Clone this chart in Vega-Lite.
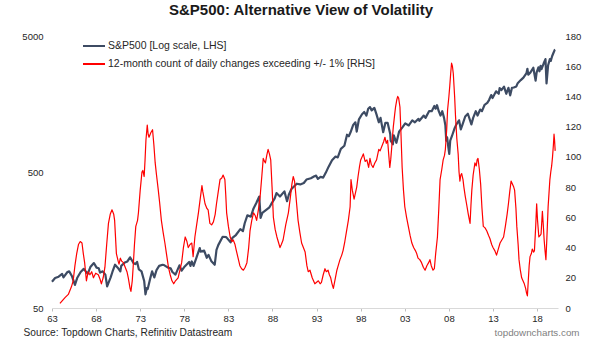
{
  "$schema": "https://vega.github.io/schema/vega-lite/v6.json",
  "width": 506,
  "height": 272,
  "autosize": {"type": "none"},
  "padding": {"left": 52, "top": 36, "right": 47, "bottom": 33},
  "background": "white",
  "title": {
    "text": "S&P500: Alternative View of Volatility",
    "font": "Liberation Sans",
    "fontSize": 15,
    "fontWeight": "bold",
    "color": "#1a1a1a",
    "anchor": "middle",
    "frame": "group",
    "offset": 13,
    "dx": -4
  },
  "config": {
    "view": {"stroke": null},
    "font": "Liberation Sans",
    "axis": {"grid": false, "labelFont": "Liberation Sans", "labelColor": "#262626", "labelFontSize": 9.5}
  },
  "datasets": {
    "sp": [
      {"t": 1963.0, "v": 78}, {"t": 1963.35, "v": 83}, {"t": 1963.75, "v": 85}, {"t": 1964.15, "v": 89}, {"t": 1964.3, "v": 84},
      {"t": 1964.75, "v": 92}, {"t": 1964.95, "v": 93}, {"t": 1965.25, "v": 86}, {"t": 1965.6, "v": 74}, {"t": 1965.85, "v": 83},
      {"t": 1966.25, "v": 92}, {"t": 1966.6, "v": 97}, {"t": 1967.05, "v": 89}, {"t": 1967.35, "v": 100}, {"t": 1967.75, "v": 107},
      {"t": 1968.05, "v": 99}, {"t": 1968.3, "v": 98}, {"t": 1968.45, "v": 91}, {"t": 1968.75, "v": 93}, {"t": 1969.05, "v": 88},
      {"t": 1969.25, "v": 72}, {"t": 1969.35, "v": 75}, {"t": 1969.65, "v": 84}, {"t": 1969.85, "v": 92}, {"t": 1970.15, "v": 104},
      {"t": 1970.45, "v": 99}, {"t": 1970.75, "v": 93}, {"t": 1970.85, "v": 102}, {"t": 1971.25, "v": 108}, {"t": 1971.55, "v": 110},
      {"t": 1971.85, "v": 118}, {"t": 1972.25, "v": 107}, {"t": 1972.45, "v": 105}, {"t": 1972.65, "v": 109}, {"t": 1972.85, "v": 96},
      {"t": 1973.15, "v": 93}, {"t": 1973.45, "v": 79}, {"t": 1973.6, "v": 63}, {"t": 1973.75, "v": 70}, {"t": 1973.85, "v": 69},
      {"t": 1974.15, "v": 83}, {"t": 1974.35, "v": 93}, {"t": 1974.6, "v": 84}, {"t": 1974.85, "v": 95}, {"t": 1975.15, "v": 102},
      {"t": 1975.55, "v": 104}, {"t": 1975.75, "v": 103}, {"t": 1976.15, "v": 99}, {"t": 1976.45, "v": 98}, {"t": 1976.65, "v": 92},
      {"t": 1977.0, "v": 88}, {"t": 1977.45, "v": 103}, {"t": 1977.7, "v": 94}, {"t": 1978.05, "v": 101}, {"t": 1978.55, "v": 109},
      {"t": 1978.7, "v": 102}, {"t": 1978.85, "v": 110}, {"t": 1979.05, "v": 102}, {"t": 1979.35, "v": 116}, {"t": 1979.75, "v": 138},
      {"t": 1979.85, "v": 130}, {"t": 1980.25, "v": 132}, {"t": 1980.55, "v": 117}, {"t": 1980.75, "v": 123}, {"t": 1981.05, "v": 111},
      {"t": 1981.45, "v": 104}, {"t": 1981.65, "v": 134}, {"t": 1981.85, "v": 145}, {"t": 1982.35, "v": 167}, {"t": 1982.75, "v": 166},
      {"t": 1983.25, "v": 152}, {"t": 1983.45, "v": 164}, {"t": 1983.85, "v": 172}, {"t": 1984.35, "v": 190}, {"t": 1984.65, "v": 184},
      {"t": 1984.85, "v": 210}, {"t": 1985.15, "v": 240}, {"t": 1985.55, "v": 235}, {"t": 1985.85, "v": 270}, {"t": 1986.15, "v": 295},
      {"t": 1986.5, "v": 330}, {"t": 1986.65, "v": 230}, {"t": 1986.85, "v": 250}, {"t": 1987.25, "v": 262}, {"t": 1987.65, "v": 275},
      {"t": 1987.85, "v": 290}, {"t": 1988.25, "v": 320}, {"t": 1988.45, "v": 350}, {"t": 1988.85, "v": 330}, {"t": 1989.35, "v": 360},
      {"t": 1989.65, "v": 305}, {"t": 1989.85, "v": 340}, {"t": 1990.15, "v": 375}, {"t": 1990.75, "v": 410}, {"t": 1991.15, "v": 405},
      {"t": 1991.55, "v": 415}, {"t": 1991.85, "v": 440}, {"t": 1992.35, "v": 450}, {"t": 1992.75, "v": 465}, {"t": 1992.95, "v": 470},
      {"t": 1993.15, "v": 445}, {"t": 1993.45, "v": 460}, {"t": 1993.75, "v": 455}, {"t": 1994.05, "v": 495}, {"t": 1994.35, "v": 545},
      {"t": 1994.75, "v": 610}, {"t": 1995.15, "v": 650}, {"t": 1995.4, "v": 640}, {"t": 1995.75, "v": 740}, {"t": 1996.15, "v": 780},
      {"t": 1996.45, "v": 940}, {"t": 1996.65, "v": 915}, {"t": 1996.85, "v": 980}, {"t": 1997.15, "v": 1110}, {"t": 1997.4, "v": 1160},
      {"t": 1997.55, "v": 990}, {"t": 1997.8, "v": 1220}, {"t": 1998.15, "v": 1330}, {"t": 1998.4, "v": 1380}, {"t": 1998.65, "v": 1300},
      {"t": 1998.85, "v": 1460}, {"t": 1999.05, "v": 1500}, {"t": 1999.25, "v": 1420}, {"t": 1999.55, "v": 1480}, {"t": 1999.8, "v": 1320},
      {"t": 2000.05, "v": 1160}, {"t": 2000.25, "v": 1250}, {"t": 2000.55, "v": 980}, {"t": 2000.8, "v": 1150}, {"t": 2001.05, "v": 1150},
      {"t": 2001.35, "v": 950}, {"t": 2001.4, "v": 850}, {"t": 2001.65, "v": 800}, {"t": 2001.75, "v": 930}, {"t": 2002.05, "v": 820},
      {"t": 2002.35, "v": 990}, {"t": 2002.75, "v": 1070}, {"t": 2003.05, "v": 1140}, {"t": 2003.45, "v": 1100}, {"t": 2003.85, "v": 1200},
      {"t": 2004.15, "v": 1160}, {"t": 2004.55, "v": 1230}, {"t": 2004.65, "v": 1190}, {"t": 2005.15, "v": 1300}, {"t": 2005.35, "v": 1250},
      {"t": 2005.75, "v": 1400}, {"t": 2006.05, "v": 1400}, {"t": 2006.35, "v": 1530}, {"t": 2006.5, "v": 1460}, {"t": 2006.65, "v": 1550},
      {"t": 2006.85, "v": 1400}, {"t": 2007.05, "v": 1300}, {"t": 2007.25, "v": 1400}, {"t": 2007.45, "v": 1250}, {"t": 2007.6, "v": 1100},
      {"t": 2007.7, "v": 850}, {"t": 2007.8, "v": 900}, {"t": 2007.95, "v": 750}, {"t": 2008.04, "v": 680}, {"t": 2008.15, "v": 850},
      {"t": 2008.35, "v": 920}, {"t": 2008.65, "v": 1050}, {"t": 2008.85, "v": 1120}, {"t": 2009.15, "v": 1200}, {"t": 2009.35, "v": 1030},
      {"t": 2009.55, "v": 1120}, {"t": 2009.85, "v": 1280}, {"t": 2010.15, "v": 1340}, {"t": 2010.55, "v": 1120}, {"t": 2010.75, "v": 1250},
      {"t": 2011.05, "v": 1400}, {"t": 2011.25, "v": 1300}, {"t": 2011.55, "v": 1440}, {"t": 2011.75, "v": 1400}, {"t": 2012.05, "v": 1560},
      {"t": 2012.35, "v": 1610}, {"t": 2012.55, "v": 1690}, {"t": 2012.8, "v": 1840}, {"t": 2012.95, "v": 1750}, {"t": 2013.35, "v": 1960},
      {"t": 2013.65, "v": 1880}, {"t": 2013.75, "v": 2070}, {"t": 2013.95, "v": 2000}, {"t": 2014.25, "v": 2120}, {"t": 2014.5, "v": 1880},
      {"t": 2014.75, "v": 2080}, {"t": 2014.95, "v": 1830}, {"t": 2015.15, "v": 2080}, {"t": 2015.35, "v": 2090}, {"t": 2015.65, "v": 2130},
      {"t": 2015.8, "v": 2250}, {"t": 2016.15, "v": 2370}, {"t": 2016.45, "v": 2470}, {"t": 2016.8, "v": 2670}, {"t": 2016.9, "v": 2870},
      {"t": 2017.0, "v": 2600}, {"t": 2017.25, "v": 2700}, {"t": 2017.57, "v": 2920}, {"t": 2017.83, "v": 2350}, {"t": 2017.95, "v": 2700},
      {"t": 2018.15, "v": 2940}, {"t": 2018.27, "v": 2750}, {"t": 2018.4, "v": 3020}, {"t": 2018.5, "v": 2850}, {"t": 2018.75, "v": 3150},
      {"t": 2018.95, "v": 3380}, {"t": 2019.07, "v": 2240}, {"t": 2019.25, "v": 3050}, {"t": 2019.45, "v": 3380}, {"t": 2019.55, "v": 3280},
      {"t": 2019.7, "v": 3550}, {"t": 2019.85, "v": 3750}, {"t": 2020.0, "v": 3950}, {"t": 2020.05, "v": 3970}
    ],
    "vol": [
      {"t": 1963.9, "v": 3}, {"t": 1964.2, "v": 5}, {"t": 1964.5, "v": 7}, {"t": 1964.85, "v": 9}, {"t": 1965.2, "v": 14},
      {"t": 1965.4, "v": 18}, {"t": 1965.6, "v": 28}, {"t": 1965.8, "v": 36}, {"t": 1966.0, "v": 42}, {"t": 1966.2, "v": 44},
      {"t": 1966.4, "v": 43}, {"t": 1966.55, "v": 36}, {"t": 1966.7, "v": 30}, {"t": 1966.9, "v": 18}, {"t": 1967.1, "v": 24},
      {"t": 1967.3, "v": 22}, {"t": 1967.5, "v": 24}, {"t": 1967.7, "v": 20}, {"t": 1967.95, "v": 23}, {"t": 1968.25, "v": 22},
      {"t": 1968.45, "v": 19}, {"t": 1968.6, "v": 16}, {"t": 1968.8, "v": 20}, {"t": 1969.0, "v": 27}, {"t": 1969.2, "v": 42},
      {"t": 1969.4, "v": 56}, {"t": 1969.6, "v": 62}, {"t": 1969.8, "v": 65}, {"t": 1970.0, "v": 62}, {"t": 1970.1, "v": 58},
      {"t": 1970.3, "v": 36}, {"t": 1970.5, "v": 31}, {"t": 1970.6, "v": 29}, {"t": 1970.75, "v": 33}, {"t": 1970.9, "v": 31},
      {"t": 1971.1, "v": 30}, {"t": 1971.3, "v": 27}, {"t": 1971.5, "v": 24}, {"t": 1971.65, "v": 20}, {"t": 1971.85, "v": 13},
      {"t": 1971.95, "v": 11}, {"t": 1972.1, "v": 18}, {"t": 1972.2, "v": 27}, {"t": 1972.35, "v": 42}, {"t": 1972.5, "v": 54},
      {"t": 1972.7, "v": 58}, {"t": 1972.8, "v": 63}, {"t": 1973.0, "v": 78}, {"t": 1973.2, "v": 90}, {"t": 1973.3, "v": 91},
      {"t": 1973.45, "v": 87}, {"t": 1973.55, "v": 98}, {"t": 1973.65, "v": 111}, {"t": 1973.8, "v": 121}, {"t": 1973.9, "v": 115},
      {"t": 1974.0, "v": 113}, {"t": 1974.2, "v": 116}, {"t": 1974.4, "v": 118}, {"t": 1974.55, "v": 108}, {"t": 1974.7, "v": 96},
      {"t": 1974.85, "v": 88}, {"t": 1975.05, "v": 78}, {"t": 1975.2, "v": 70}, {"t": 1975.4, "v": 58}, {"t": 1975.6, "v": 50},
      {"t": 1975.8, "v": 43}, {"t": 1976.0, "v": 35}, {"t": 1976.2, "v": 27}, {"t": 1976.4, "v": 22}, {"t": 1976.6, "v": 18},
      {"t": 1976.8, "v": 16}, {"t": 1977.0, "v": 18}, {"t": 1977.3, "v": 20}, {"t": 1977.5, "v": 25}, {"t": 1977.7, "v": 30},
      {"t": 1977.9, "v": 40}, {"t": 1978.1, "v": 47}, {"t": 1978.3, "v": 44}, {"t": 1978.45, "v": 40}, {"t": 1978.65, "v": 42},
      {"t": 1978.85, "v": 43}, {"t": 1979.0, "v": 34}, {"t": 1979.2, "v": 47}, {"t": 1979.4, "v": 55}, {"t": 1979.6, "v": 63},
      {"t": 1979.8, "v": 72}, {"t": 1980.0, "v": 81}, {"t": 1980.1, "v": 77}, {"t": 1980.35, "v": 69}, {"t": 1980.55, "v": 66},
      {"t": 1980.7, "v": 65}, {"t": 1980.9, "v": 56}, {"t": 1981.1, "v": 55}, {"t": 1981.3, "v": 57}, {"t": 1981.5, "v": 62},
      {"t": 1981.65, "v": 69}, {"t": 1981.85, "v": 77}, {"t": 1982.05, "v": 85}, {"t": 1982.25, "v": 86}, {"t": 1982.4, "v": 88},
      {"t": 1982.6, "v": 85}, {"t": 1982.7, "v": 75}, {"t": 1982.8, "v": 63}, {"t": 1983.0, "v": 54}, {"t": 1983.2, "v": 47},
      {"t": 1983.4, "v": 44}, {"t": 1983.55, "v": 45}, {"t": 1983.75, "v": 42}, {"t": 1983.9, "v": 38}, {"t": 1984.1, "v": 33},
      {"t": 1984.3, "v": 28}, {"t": 1984.5, "v": 26}, {"t": 1984.7, "v": 25}, {"t": 1984.9, "v": 27}, {"t": 1985.1, "v": 30},
      {"t": 1985.3, "v": 40}, {"t": 1985.45, "v": 51}, {"t": 1985.65, "v": 58}, {"t": 1985.85, "v": 63}, {"t": 1986.05, "v": 61},
      {"t": 1986.2, "v": 58}, {"t": 1986.4, "v": 65}, {"t": 1986.6, "v": 74}, {"t": 1986.8, "v": 88}, {"t": 1986.95, "v": 99},
      {"t": 1987.1, "v": 97}, {"t": 1987.2, "v": 96}, {"t": 1987.35, "v": 101}, {"t": 1987.5, "v": 105}, {"t": 1987.65, "v": 102},
      {"t": 1987.8, "v": 98}, {"t": 1987.95, "v": 80}, {"t": 1988.1, "v": 60}, {"t": 1988.3, "v": 52}, {"t": 1988.5, "v": 47},
      {"t": 1988.7, "v": 43}, {"t": 1988.85, "v": 40}, {"t": 1989.0, "v": 42}, {"t": 1989.2, "v": 45}, {"t": 1989.5, "v": 55},
      {"t": 1989.8, "v": 63}, {"t": 1990.0, "v": 72}, {"t": 1990.2, "v": 82}, {"t": 1990.35, "v": 87}, {"t": 1990.5, "v": 84},
      {"t": 1990.6, "v": 78}, {"t": 1990.75, "v": 68}, {"t": 1990.9, "v": 58}, {"t": 1991.1, "v": 50}, {"t": 1991.3, "v": 43},
      {"t": 1991.5, "v": 40}, {"t": 1991.7, "v": 37}, {"t": 1991.9, "v": 28}, {"t": 1992.05, "v": 24}, {"t": 1992.25, "v": 25},
      {"t": 1992.5, "v": 20}, {"t": 1992.8, "v": 16}, {"t": 1993.0, "v": 17}, {"t": 1993.2, "v": 18}, {"t": 1993.4, "v": 16},
      {"t": 1993.55, "v": 17}, {"t": 1993.75, "v": 22}, {"t": 1993.95, "v": 26}, {"t": 1994.1, "v": 24}, {"t": 1994.3, "v": 25},
      {"t": 1994.45, "v": 22}, {"t": 1994.6, "v": 20}, {"t": 1994.75, "v": 16}, {"t": 1994.9, "v": 13}, {"t": 1995.1, "v": 19},
      {"t": 1995.3, "v": 25}, {"t": 1995.45, "v": 28}, {"t": 1995.65, "v": 32}, {"t": 1995.85, "v": 35}, {"t": 1996.0, "v": 38},
      {"t": 1996.2, "v": 44}, {"t": 1996.4, "v": 51}, {"t": 1996.6, "v": 58}, {"t": 1996.8, "v": 67}, {"t": 1996.9, "v": 85},
      {"t": 1997.05, "v": 78}, {"t": 1997.25, "v": 72}, {"t": 1997.4, "v": 76}, {"t": 1997.55, "v": 80}, {"t": 1997.7, "v": 87},
      {"t": 1997.85, "v": 93}, {"t": 1998.0, "v": 98}, {"t": 1998.15, "v": 100}, {"t": 1998.3, "v": 102}, {"t": 1998.5, "v": 97},
      {"t": 1998.7, "v": 98}, {"t": 1998.9, "v": 93}, {"t": 1999.05, "v": 99}, {"t": 1999.2, "v": 95}, {"t": 1999.4, "v": 93},
      {"t": 1999.6, "v": 96}, {"t": 1999.8, "v": 98}, {"t": 2000.05, "v": 105}, {"t": 2000.2, "v": 104}, {"t": 2000.4, "v": 107},
      {"t": 2000.6, "v": 110}, {"t": 2000.75, "v": 113}, {"t": 2000.9, "v": 109}, {"t": 2001.05, "v": 111}, {"t": 2001.2, "v": 100},
      {"t": 2001.3, "v": 93}, {"t": 2001.4, "v": 98}, {"t": 2001.5, "v": 105}, {"t": 2001.6, "v": 113}, {"t": 2001.7, "v": 120},
      {"t": 2001.85, "v": 128}, {"t": 2001.95, "v": 133}, {"t": 2002.1, "v": 138}, {"t": 2002.2, "v": 140}, {"t": 2002.3, "v": 139},
      {"t": 2002.45, "v": 133}, {"t": 2002.55, "v": 118}, {"t": 2002.7, "v": 93}, {"t": 2002.85, "v": 78}, {"t": 2003.0, "v": 67},
      {"t": 2003.2, "v": 60}, {"t": 2003.4, "v": 54}, {"t": 2003.6, "v": 48}, {"t": 2003.8, "v": 43}, {"t": 2004.0, "v": 40},
      {"t": 2004.2, "v": 38}, {"t": 2004.35, "v": 36}, {"t": 2004.5, "v": 33}, {"t": 2004.7, "v": 32}, {"t": 2004.9, "v": 30},
      {"t": 2005.1, "v": 27}, {"t": 2005.3, "v": 25}, {"t": 2005.5, "v": 28}, {"t": 2005.7, "v": 30}, {"t": 2005.85, "v": 32},
      {"t": 2006.0, "v": 28}, {"t": 2006.2, "v": 25}, {"t": 2006.35, "v": 26}, {"t": 2006.5, "v": 36}, {"t": 2006.7, "v": 47},
      {"t": 2006.85, "v": 65}, {"t": 2007.0, "v": 85}, {"t": 2007.2, "v": 92}, {"t": 2007.35, "v": 98}, {"t": 2007.5, "v": 101},
      {"t": 2007.6, "v": 105}, {"t": 2007.75, "v": 118}, {"t": 2007.85, "v": 131}, {"t": 2008.0, "v": 140}, {"t": 2008.1, "v": 147},
      {"t": 2008.2, "v": 155}, {"t": 2008.3, "v": 162}, {"t": 2008.4, "v": 160}, {"t": 2008.5, "v": 155}, {"t": 2008.65, "v": 140},
      {"t": 2008.75, "v": 127}, {"t": 2008.9, "v": 112}, {"t": 2009.05, "v": 102}, {"t": 2009.15, "v": 90}, {"t": 2009.25, "v": 84},
      {"t": 2009.35, "v": 88}, {"t": 2009.45, "v": 89}, {"t": 2009.6, "v": 85}, {"t": 2009.7, "v": 80}, {"t": 2009.85, "v": 74},
      {"t": 2010.0, "v": 69}, {"t": 2010.2, "v": 62}, {"t": 2010.4, "v": 56}, {"t": 2010.5, "v": 68}, {"t": 2010.6, "v": 78},
      {"t": 2010.75, "v": 88}, {"t": 2010.95, "v": 96}, {"t": 2011.1, "v": 94}, {"t": 2011.2, "v": 98}, {"t": 2011.3, "v": 99},
      {"t": 2011.45, "v": 92}, {"t": 2011.6, "v": 82}, {"t": 2011.75, "v": 66}, {"t": 2011.9, "v": 54}, {"t": 2012.1, "v": 53},
      {"t": 2012.3, "v": 51}, {"t": 2012.5, "v": 48}, {"t": 2012.65, "v": 46}, {"t": 2012.85, "v": 42}, {"t": 2013.0, "v": 40},
      {"t": 2013.2, "v": 38}, {"t": 2013.4, "v": 35}, {"t": 2013.6, "v": 39}, {"t": 2013.8, "v": 43}, {"t": 2014.0, "v": 45},
      {"t": 2014.2, "v": 47}, {"t": 2014.4, "v": 54}, {"t": 2014.6, "v": 62}, {"t": 2014.75, "v": 69}, {"t": 2014.9, "v": 77},
      {"t": 2015.05, "v": 84}, {"t": 2015.2, "v": 82}, {"t": 2015.35, "v": 80}, {"t": 2015.45, "v": 78}, {"t": 2015.6, "v": 66},
      {"t": 2015.7, "v": 54}, {"t": 2015.85, "v": 42}, {"t": 2015.95, "v": 32}, {"t": 2016.1, "v": 25}, {"t": 2016.25, "v": 20},
      {"t": 2016.4, "v": 18}, {"t": 2016.55, "v": 16}, {"t": 2016.7, "v": 13}, {"t": 2016.8, "v": 10}, {"t": 2016.9, "v": 8},
      {"t": 2017.0, "v": 18}, {"t": 2017.1, "v": 28}, {"t": 2017.2, "v": 34}, {"t": 2017.35, "v": 36}, {"t": 2017.45, "v": 39},
      {"t": 2017.6, "v": 37}, {"t": 2017.7, "v": 38}, {"t": 2017.85, "v": 55}, {"t": 2017.95, "v": 69}, {"t": 2018.05, "v": 58},
      {"t": 2018.2, "v": 47}, {"t": 2018.35, "v": 48}, {"t": 2018.45, "v": 49}, {"t": 2018.6, "v": 64}, {"t": 2018.7, "v": 55},
      {"t": 2018.8, "v": 45}, {"t": 2018.9, "v": 38}, {"t": 2019.0, "v": 32}, {"t": 2019.1, "v": 45}, {"t": 2019.25, "v": 67},
      {"t": 2019.35, "v": 76}, {"t": 2019.45, "v": 85}, {"t": 2019.55, "v": 90}, {"t": 2019.65, "v": 94}, {"t": 2019.75, "v": 100},
      {"t": 2019.85, "v": 108}, {"t": 2019.92, "v": 115}, {"t": 2019.98, "v": 111}, {"t": 2020.05, "v": 104}
    ]
  },
  "layer": [
    {
      "data": {"name": "sp"},
      "mark": {"type": "line", "strokeWidth": 2.2, "strokeJoin": "round"},
      "encoding": {
        "x": {
          "field": "t", "type": "quantitative",
          "scale": {"domain": [1963, 2020.37], "nice": false, "zero": false},
          "axis": {
            "title": null,
            "values": [1963, 1968, 1973, 1978, 1983, 1988, 1993, 1998, 2003, 2008, 2013, 2018],
            "labelExpr": "substring(toString(datum.value), 2)",
            "domainColor": "#d9d9d9", "domainWidth": 1,
            "tickColor": "#bfbfbf", "tickSize": 3, "labelPadding": 2,
            "labelFlush": false
          }
        },
        "y": {
          "field": "v", "type": "quantitative",
          "scale": {"type": "log", "domain": [50, 5000], "nice": false, "zero": false},
          "axis": {
            "orient": "left",
            "values": [50, 500, 5000],
            "format": "d",
            "domain": false, "ticks": false, "labelPadding": 9,
            "title": "Source: Topdown Charts, Refinitiv Datastream",
            "titleAngle": 0, "titleAlign": "left", "titleBaseline": "middle",
            "titleX": -29, "titleY": 296,
            "titleFont": "Liberation Sans", "titleFontSize": 10.2, "titleFontWeight": "normal", "titleColor": "#262626"
          }
        },
        "color": {
          "datum": "S&P500 [Log scale, LHS]",
          "scale": {
            "domain": ["S&P500 [Log scale, LHS]", "12-month count of daily changes exceeding +/- 1% [RHS]"],
            "range": ["#3d4b63", "#ff0000"]
          },
          "legend": {
            "title": null,
            "orient": "none",
            "legendX": 30,
            "legendY": -2,
            "symbolType": "stroke",
            "symbolSize": 484,
            "symbolStrokeWidth": 2,
            "labelFont": "Liberation Sans",
            "labelFontSize": 10.5,
            "labelColor": "#262626",
            "labelOffset": 2,
            "labelLimit": 0,
            "rowPadding": -1,
            "padding": 0
          }
        }
      }
    },
    {
      "data": {"name": "vol"},
      "mark": {"type": "line", "strokeWidth": 1.2, "strokeJoin": "round"},
      "encoding": {
        "x": {"field": "t", "type": "quantitative"},
        "y": {
          "field": "v", "type": "quantitative",
          "scale": {"domain": [0, 180], "nice": false},
          "axis": {
            "orient": "right",
            "values": [0, 20, 40, 60, 80, 100, 120, 140, 160, 180],
            "domain": false, "ticks": false, "labelPadding": 7,
            "title": "topdowncharts.com",
            "titleAngle": 0, "titleAlign": "right", "titleBaseline": "middle",
            "titleX": 21, "titleY": 296,
            "titleFont": "Liberation Sans", "titleFontSize": 9.8, "titleFontWeight": "normal", "titleColor": "#808080"
          }
        },
        "color": {"datum": "12-month count of daily changes exceeding +/- 1% [RHS]"}
      }
    }
  ],
  "resolve": {"scale": {"y": "independent"}}
}
